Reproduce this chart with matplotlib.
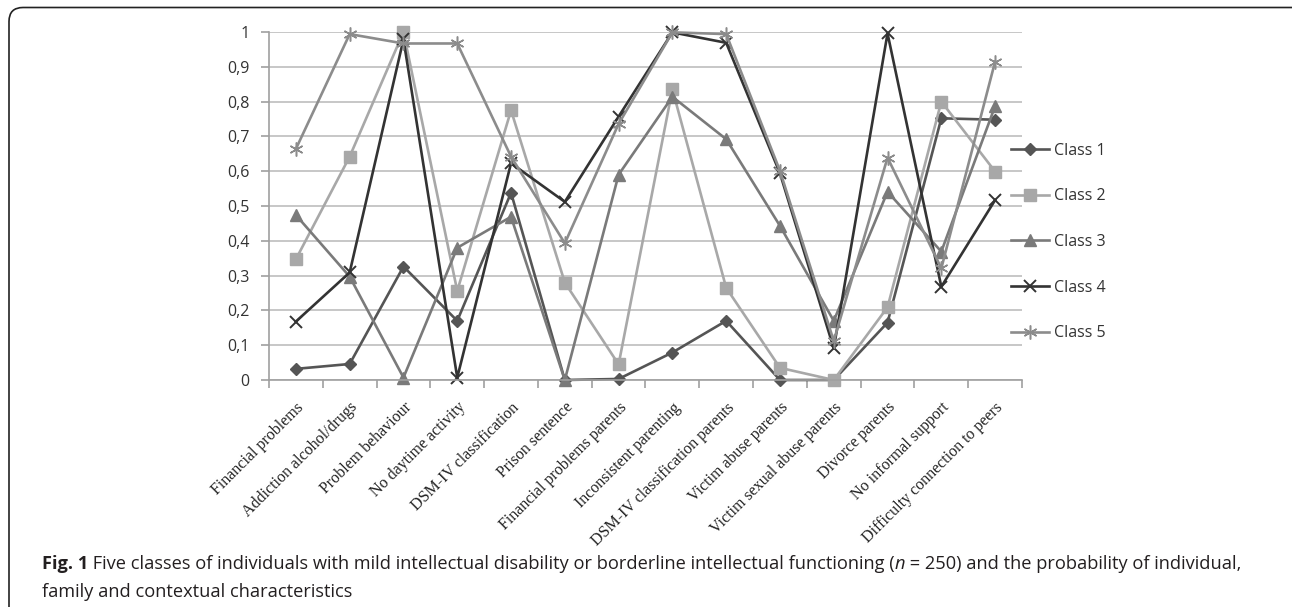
import matplotlib
matplotlib.use('Agg')
import matplotlib.pyplot as plt
from matplotlib.patches import FancyBboxPatch
from matplotlib.transforms import IdentityTransform
from matplotlib.ticker import FixedLocator, FuncFormatter

# Categories (x axis)
categories = ['Financial problems', 'Addiction alcohol/drugs', 'Problem behaviour',
              'No daytime activity', 'DSM-IV classification', 'Prison sentence',
              'Financial problems parents', 'Inconsistent parenting',
              'DSM-IV classification parents', 'Victim abuse parents',
              'Victim sexual abuse parents', 'Divorce parents', 'No informal support',
              'Difficulty connection to peers']

# Probabilities per class
class1 = [0.032, 0.046, 0.326, 0.170, 0.538, 0.000, 0.003, 0.079, 0.170, 0.000, 0.000, 0.165, 0.752, 0.748]
class2 = [0.347, 0.642, 1.000, 0.256, 0.775, 0.280, 0.045, 0.835, 0.265, 0.035, 0.000, 0.209, 0.800, 0.599]
class3 = [0.474, 0.297, 0.007, 0.380, 0.469, 0.000, 0.590, 0.814, 0.692, 0.443, 0.170, 0.541, 0.369, 0.787]
class4 = [0.168, 0.309, 0.979, 0.007, 0.623, 0.512, 0.757, 0.999, 0.969, 0.594, 0.091, 0.996, 0.268, 0.517]
class5 = [0.664, 0.994, 0.967, 0.967, 0.642, 0.393, 0.736, 0.999, 0.994, 0.601, 0.112, 0.639, 0.321, 0.915]

labels = ['Class 1', 'Class 2', 'Class 3', 'Class 4', 'Class 5']
y_ticks = [0, 0.1, 0.2, 0.3, 0.4, 0.5, 0.6, 0.7, 0.8, 0.9, 1]

W, H = 1292, 607
fig = plt.figure(figsize=(W / 100, H / 100), dpi=100)
fig.patch.set_facecolor('white')

# outer rounded frame (pixel coordinates)
frame = FancyBboxPatch((9, -40), 1300, 607 - 7.5 + 40,
                       boxstyle='round,pad=0,rounding_size=14',
                       transform=IdentityTransform(), fill=False,
                       edgecolor='#222222', linewidth=1.2, clip_on=False)
fig.patches.append(frame)

ax = fig.add_axes([269 / W, 1 - 380 / H, (1022 - 269) / W, (380 - 32) / H])

x = list(range(len(categories)))
styles = [
    dict(color='#555555', marker='D', markersize=6.5),
    dict(color='#a8a8a8', marker='s', markersize=8),
    dict(color='#7a7a7a', marker='^', markersize=8),
    dict(color='#333333', marker='x', markersize=9, markeredgewidth=1.4),
    dict(color='#8c8c8c', marker=(6, 2, 0), markersize=10, markeredgewidth=1.1),
]
series = [class1, class2, class3, class4, class5]
for vals, lab, st in zip(series, labels, styles):
    ax.plot(x, vals, label=lab, linewidth=1.9, clip_on=False, **st)

ax.set_xlim(-0.5, len(categories) - 0.5)
ax.set_ylim(0, 1)

ax.yaxis.set_major_locator(FixedLocator(y_ticks))
ax.yaxis.set_major_formatter(FuncFormatter(lambda v, p: ('%g' % round(v, 1)).replace('.', ',')))
ax.grid(axis='y', color='#bdbdbd', linewidth=1.2)
ax.set_axisbelow(True)

ax.set_xticks(x)
ax.set_xticklabels(categories, rotation=45, ha='right', va='top',
                   rotation_mode='anchor', family='Liberation Serif', fontsize=11.5,
                   color='#222222')
ax.set_xticks([i - 0.5 for i in range(len(categories) + 1)], minor=True)
ax.tick_params(axis='x', which='major', length=0, pad=14)
ax.tick_params(axis='x', which='minor', length=6, color='#a0a0a0', width=1.2)
ax.tick_params(axis='y', length=6, color='#a0a0a0', width=1.2, pad=8,
               labelsize=11.5, labelcolor='#333333')
for t in ax.get_yticklabels():
    t.set_family('Open Sans')

for s in ['top', 'right']:
    ax.spines[s].set_visible(False)
for s in ['left', 'bottom']:
    ax.spines[s].set_color('#a0a0a0')
    ax.spines[s].set_linewidth(1.2)

leg = ax.legend(loc='center left', bbox_to_anchor=(1011 / W, 1 - 242 / H),
                bbox_transform=fig.transFigure, frameon=False, borderpad=0,
                borderaxespad=0, handlelength=2.4, handletextpad=0.3,
                labelspacing=1.85, prop={'family': 'Open Sans', 'size': 11.5})
for t in leg.get_texts():
    t.set_color('#333333')

# caption with mixed styles
fig.canvas.draw()
renderer = fig.canvas.get_renderer()


def draw_runs(runs, x0, y0):
    xpos = x0
    for txt, weight, style in runs:
        t = fig.text(xpos / W, 1 - y0 / H, txt, fontsize=13.15, family='Open Sans',
                     weight=weight, style=style, color='#231f20', va='baseline')
        bb = t.get_window_extent(renderer)
        xpos = bb.x1


draw_runs([('Fig. 1', 'bold', 'normal'),
           (' Five classes of individuals with mild intellectual disability or borderline intellectual functioning (', 'normal', 'normal'),
           ('n', 'normal', 'italic'),
           (' = 250) and the probability of individual,', 'normal', 'normal')], 42, 569)
draw_runs([('family and contextual characteristics', 'normal', 'normal')], 42, 597)

fig.savefig('out.png', dpi=100)
